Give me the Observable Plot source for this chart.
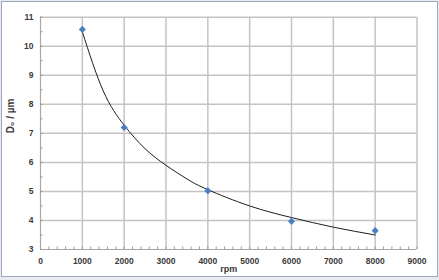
<!DOCTYPE html>
<html>
<head>
<meta charset="utf-8">
<script src="https://cdn.jsdelivr.net/npm/d3@7"></script>
<script src="https://cdn.jsdelivr.net/npm/@observablehq/plot@0.6"></script>
<style>
  html, body { margin: 0; padding: 0; background: #fff; }
  #wrap { position: relative; width: 439px; height: 280px; background: #e9ebf0; overflow: hidden; }
  #panel { position: absolute; left: 1px; top: 1px; width: 435px; height: 274px; border: 1px solid #9ba7c0; background: #fff; }
  #chart { position: absolute; left: 0; top: 0; }
  svg { font-family: "Liberation Sans", Arial, sans-serif; }
</style>
</head>
<body>
<div id="wrap"><div id="panel"></div><div id="chart"></div></div>
<script>
// measured data points
const rpm = [1000, 2000, 4000, 6000, 8000];
const d0 = [10.58, 7.2, 5.02, 3.97, 3.65];

// trend curve
const trendRpm = [1000, 1500, 2000, 2500, 3000, 3500, 4000, 5000, 6000, 7000, 8000];
const trendD0 = [10.5, 8.46, 7.28, 6.47, 5.9, 5.43, 5.06, 4.5, 4.1, 3.77, 3.5];

const xTicks = [0, 1000, 2000, 3000, 4000, 5000, 6000, 7000, 8000, 9000];
const yTicks = [3, 4, 5, 6, 7, 8, 9, 10, 11];
const xMinor = d3.range(0, 9001, 200);
const yMinor = d3.range(3, 11.01, 0.5);

const xLabel = "rpm";
const yLabel = "D₀ / µm";

const points = rpm.map((r, i) => ({rpm: r, d0: d0[i]}));
const trend = trendRpm.map((r, i) => ({rpm: r, d0: trendD0[i]}));

const grid = "#c4c4c4";
const txt = "#3a3a3a";

const plot = Plot.plot({
  width: 439,
  height: 280,
  marginLeft: 40,
  marginRight: 22.5,
  marginTop: 16.7,
  marginBottom: 31,
  style: {background: "transparent", fontSize: "8px", fontWeight: "bold", color: txt},
  x: {domain: [0, 9000]},
  y: {domain: [3, 11]},
  marks: [
    Plot.ruleX(xTicks.slice(1), {stroke: grid, strokeWidth: 1.5}),
    Plot.ruleY(yTicks.slice(1), {stroke: grid, strokeWidth: 1.5}),
    Plot.ruleX([0], {stroke: "#a8a8a8", strokeWidth: 1.2}),
    Plot.ruleY([3], {stroke: "#a8a8a8", strokeWidth: 1.2}),
    Plot.axisX({ticks: xMinor, tickSize: -2.5, stroke: "#9a9a9a", text: null, label: null}),
    Plot.axisY({ticks: yMinor, tickSize: -2.5, stroke: "#9a9a9a", text: null, label: null}),
    Plot.axisX({ticks: xTicks, tickSize: 0, tickPadding: 8, tickFormat: d => String(d), fill: txt, fontSize: 8.5, fontWeight: "bold", label: null}),
    Plot.axisY({ticks: yTicks, tickSize: 0, tickPadding: 7, tickFormat: d => String(d), fill: txt, fontSize: 8.5, fontWeight: "bold", label: null}),
    Plot.text([xLabel], {frameAnchor: "bottom", dy: 22, fontSize: 9, fontWeight: "bold", fill: txt}),
    Plot.text([yLabel], {frameAnchor: "left", dx: -30, rotate: -90, fontSize: 10, fontWeight: "bold", fill: txt}),
    Plot.line(trend, {x: "rpm", y: "d0", curve: "natural", stroke: "#1e1e1e", strokeWidth: 1}),
    Plot.dot(points, {x: "rpm", y: "d0", symbol: "diamond2", r: 3.2, fill: "#4a7fc1", stroke: "none"})
  ]
});
document.getElementById("chart").appendChild(plot);
</script>
</body>
</html>
